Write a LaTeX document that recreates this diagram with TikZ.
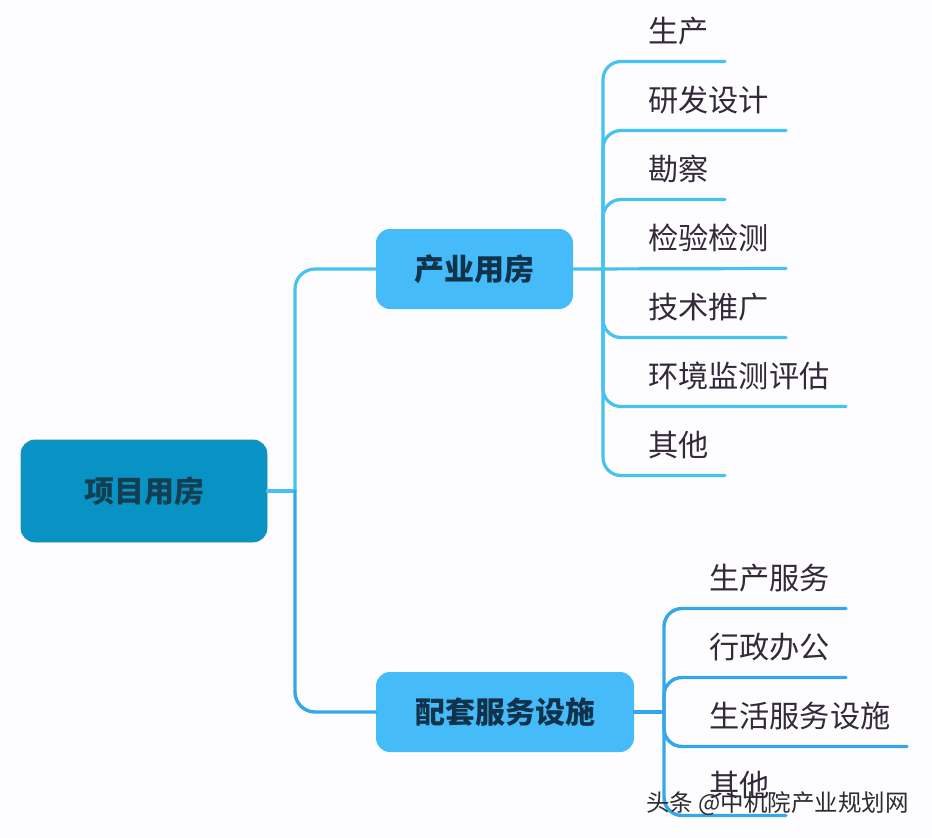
\documentclass[tikz,border=0pt]{standalone}
\usepackage{fontspec}
\setmainfont{Noto Sans CJK SC}
\begin{document}
\begin{tikzpicture}[x=1pt,y=-1pt,
  boxbase/.style={rounded corners=14pt,inner sep=0pt,align=center,font=\fontsize{30}{34}\selectfont\bfseries},
  rootbox/.style={boxbase,fill=rootblue,draw=rootedge,line width=0.8pt,minimum width=246pt,minimum height=102pt,text=roottext},
  midbox/.style={boxbase,fill=midblue,minimum height=80pt,text=midtext},
  leaf/.style={anchor=west,inner sep=0pt,text=leaftext,font=\fontsize{30.2}{34}\selectfont},
  wire/.style={draw=wireblue,line width=3.2pt,line cap=round},
  wiredeep/.style={draw=wiredeepblue,line width=3.4pt,line cap=round},
  mark text/.style={anchor=west,inner sep=0pt,text=marktext,font=\fontsize{23.5}{26}\selectfont}]
\definecolor{rootblue}{HTML}{0993C4}
\definecolor{rootedge}{HTML}{2A8DB8}
\definecolor{roottext}{HTML}{123F52}
\definecolor{midblue}{HTML}{45BBFA}
\definecolor{midtext}{HTML}{10324A}
\definecolor{leaftext}{HTML}{33293A}
\definecolor{wireblue}{HTML}{45C2EE}
\definecolor{wiredeepblue}{HTML}{35A6EA}
\definecolor{marktext}{HTML}{2C2C30}
\definecolor{paper}{HTML}{FDFDFF}
\path[fill=paper] (0,0) rectangle (932,838);
\useasboundingbox (0,0) rectangle (932,838);

\node[rootbox] (root) at (144,491) {项目用房};
\node[midbox,minimum width=197pt] (p1) at (474.5,269) {产业用房};
\node[midbox,minimum width=258pt] (p2) at (505,712) {配套服务设施};

\coordinate (j0) at (295,491);
\coordinate (j1) at (603,269);
\coordinate (j2) at (664,712);

% top-level connectors
\draw[wire] (root.east) -- (j0);
\draw[wire,rounded corners=20pt] (p1.west) -- (j0 |- p1.west) -- (j0);
\draw[wiredeep,rounded corners=20pt] (p2.west) -- (j0 |- p2.west) -- (j0);

% upper group
\foreach \n/\t/\y/\e in {a/生产/31/725,b/研发设计/100/786,c/勘察/169/725,d/检验检测/238/786,e/技术推广/307/786,f/环境监测评估/376/846,g/其他/445/725}{
  \node[leaf] (\n) at (648,\y) {\t};
  \coordinate (\n e) at (\e,\y+30.5);
}
\draw[wire] (p1.east) -- (de);
\foreach \n in {a,b,c,e,f,g}{
  \draw[wire,rounded corners=18pt] (j1) -- (j1 |- \n e) -- (\n e);
}

% lower group
\foreach \n/\t/\y/\e in {h/生产服务/578/846,i/行政办公/647/846,j/生活服务设施/716/907,k/其他/785/786}{
  \node[leaf] (\n) at (709,\y) {\t};
  \coordinate (\n e) at (\e,\y+30.5);
}
\draw[wiredeep] (p2.east) -- (j2);
\foreach \n in {h,i,j,k}{
  \draw[wiredeep,rounded corners=18pt] (j2) -- (j2 |- \n e) -- (\n e);
}

\node[mark text] (mark) at (646,804) {头条 @中机院产业规划网};
\end{tikzpicture}
\end{document}
